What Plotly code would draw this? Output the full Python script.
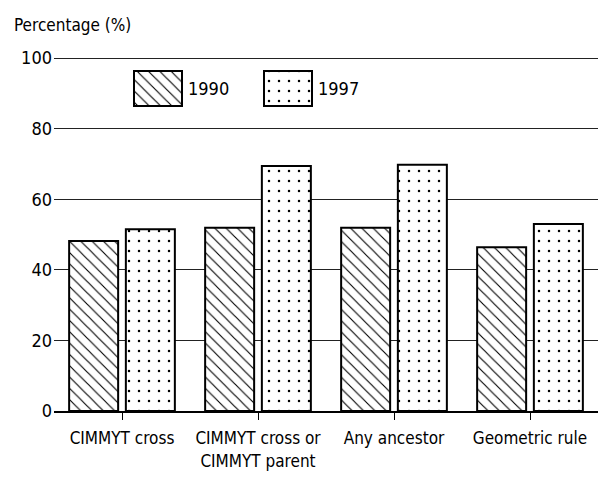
import plotly.graph_objects as go

categories = ["CIMMYT cross", "CIMMYT cross or<br>CIMMYT parent", "Any ancestor", "Geometric rule"]
values_1990 = [48.2, 51.9, 51.9, 46.4]
values_1997 = [51.5, 69.4, 69.8, 53.0]
series_names = ["1990", "1997"]
y_ticks = [0, 20, 40, 60, 80, 100]

FONT = "DejaVu Sans Condensed, Liberation Sans Narrow, sans-serif"
FS = 18

W, H = 598, 478
ML, MR, MT, MB = 54, 0, 56, 67
Y_MAX = 100.6

hatch = dict(shape="\\", size=8, solidity=0.14, fgcolor="black", bgcolor="white", fillmode="replace")
dots = dict(shape=".", size=10, solidity=0.05, fgcolor="black", bgcolor="white", fillmode="replace")

fig = go.Figure()
fig.add_trace(go.Bar(
    x=categories, y=values_1990, name=series_names[0],
    marker=dict(color="white", line=dict(color="black", width=2), pattern=hatch),
    showlegend=False,
))
fig.add_trace(go.Bar(
    x=categories, y=values_1997, name=series_names[1],
    marker=dict(color="white", line=dict(color="black", width=2), pattern=dots),
    showlegend=False,
))

# legend keys on a pixel-scaled overlay axis
pw = W - ML - MR
ph = H - MT - MB
leg_x = [ML + 104, ML + 234]
leg_top, leg_h, leg_w = 71, 35, 48
for i, (pat, nm) in enumerate([(hatch, series_names[0]), (dots, series_names[1])]):
    fig.add_trace(go.Bar(
        x=[leg_x[i]], y=[leg_h], base=[leg_top], width=[leg_w],
        xaxis="x2", yaxis="y2",
        marker=dict(color="white", line=dict(color="black", width=2), pattern=pat),
        showlegend=False, hoverinfo="skip",
    ))
    fig.add_annotation(
        x=leg_x[i] + leg_w / 2 + 4, y=leg_top + leg_h / 2, xref="x2", yref="y2",
        text=nm, showarrow=False, xanchor="left", yanchor="middle",
        font=dict(family=FONT, size=FS, color="black"),
    )

fig.add_annotation(
    x=(12 - ML) / pw, y=1 + (MT - 25) / ph, xref="paper", yref="paper",
    text="Percentage (%)", showarrow=False, xanchor="left", yanchor="middle",
    font=dict(family=FONT, size=FS - 1, color="black"),
)

fig.update_layout(
    width=W, height=H,
    margin=dict(l=ML, r=MR, t=MT, b=MB, pad=0),
    plot_bgcolor="white", paper_bgcolor="white",
    barmode="group", bargap=0.166, bargroupgap=0.136,
    font=dict(family=FONT, size=FS, color="black"),
    xaxis=dict(
        type="category", range=[-0.5, 3.5],
        showline=True, linecolor="black", linewidth=2,
        ticks="outside", ticklen=7, tickcolor="black", tickwidth=1,
        ticklabelstandoff=4,
        showgrid=False, tickfont=dict(family=FONT, size=FS - 1),
    ),
    yaxis=dict(
        range=[0, Y_MAX], tickvals=y_ticks, showgrid=True,
        gridcolor="#222222", gridwidth=1, zeroline=False, showline=False,
        ticks="", ticklabelstandoff=1, tickfont=dict(family=FONT, size=FS),
    ),
    xaxis2=dict(range=[ML, W - MR], overlaying="x", visible=False, fixedrange=True),
    yaxis2=dict(range=[H - MB, MT], overlaying="y", visible=False, fixedrange=True),
)

fig.write_html(
    "out.html",
    config={"displayModeBar": False, "staticPlot": True},
    post_script="document.body.style.margin='0';document.body.style.overflow='hidden';",
)
